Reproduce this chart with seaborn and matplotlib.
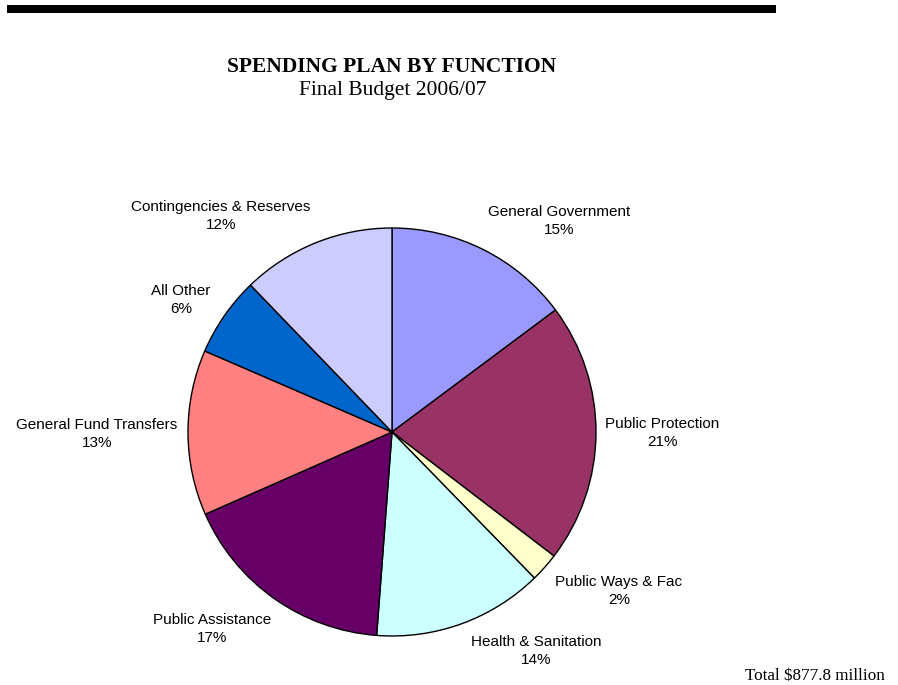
"""Spending plan by function - pie chart recreation."""

import matplotlib.pyplot as plt
from matplotlib.patches import Rectangle
import seaborn as sns

FUNCTIONS = [
    "General Government",
    "Public Protection",
    "Public Ways & Fac",
    "Health & Sanitation",
    "Public Assistance",
    "General Fund Transfers",
    "All Other",
    "Contingencies & Reserves",
]
SHARES = [14.8, 20.6, 2.3, 13.5, 17.2, 13.1, 6.3, 12.2]
COLORS = ["#9999FF", "#993366", "#FFFFCC", "#CCFFFF",
          "#660066", "#FF8080", "#0066CC", "#CCCCFF"]

# label centres in pixels (x, y from top), same order as FUNCTIONS
LABEL_PX = [(559, 221), (662, 433), (619, 591), (536, 651),
            (212, 629), (97, 434), (181, 300), (221, 216)]

W, H = 898, 685
CX, CY, R = 392, 432, 204


def main() -> None:
    sns.set_theme(style="white")
    plt.rcParams["font.family"] = ["Liberation Sans", "DejaVu Sans"]
    plt.rcParams["text.color"] = "black"

    fig = plt.figure(figsize=(W / 100, H / 100), dpi=100)
    fig.patch.set_facecolor("white")

    # thick rule across the top
    fig.add_artist(Rectangle((7 / W, 1 - 13 / H), (776 - 7) / W, 8 / H,
                             transform=fig.transFigure, color="black", lw=0))

    fig.text(392 / W, 1 - 67 / H, "SPENDING PLAN BY FUNCTION",
             ha="center", va="center", fontsize=15.5, fontweight="bold",
             family="Liberation Serif")
    fig.text(393 / W, 1 - 90 / H, "Final Budget 2006/07",
             ha="center", va="center", fontsize=15.5, family="Liberation Serif")

    ax = fig.add_axes([(CX - R) / W, (H - CY - R) / H, 2 * R / W, 2 * R / H])
    ax.pie(SHARES, colors=COLORS, startangle=90, counterclock=False,
           wedgeprops=dict(edgecolor="black", linewidth=1))
    ax.set_xlim(-1, 1)
    ax.set_ylim(-1, 1)
    ax.set_aspect("equal")
    ax.axis("off")

    for name, share, (px, py) in zip(FUNCTIONS, SHARES, LABEL_PX):
        fig.text(px / W, 1 - py / H, f"{name}\n{share:.0f}%",
                 ha="center", va="center", fontsize=11, linespacing=1.3)

    fig.text(815 / W, 1 - 676 / H, "Total $877.8 million",
             ha="center", va="center", fontsize=12.3, family="Liberation Serif")

    fig.savefig("out.png", dpi=100)
    plt.close(fig)


if __name__ == "__main__":
    main()
